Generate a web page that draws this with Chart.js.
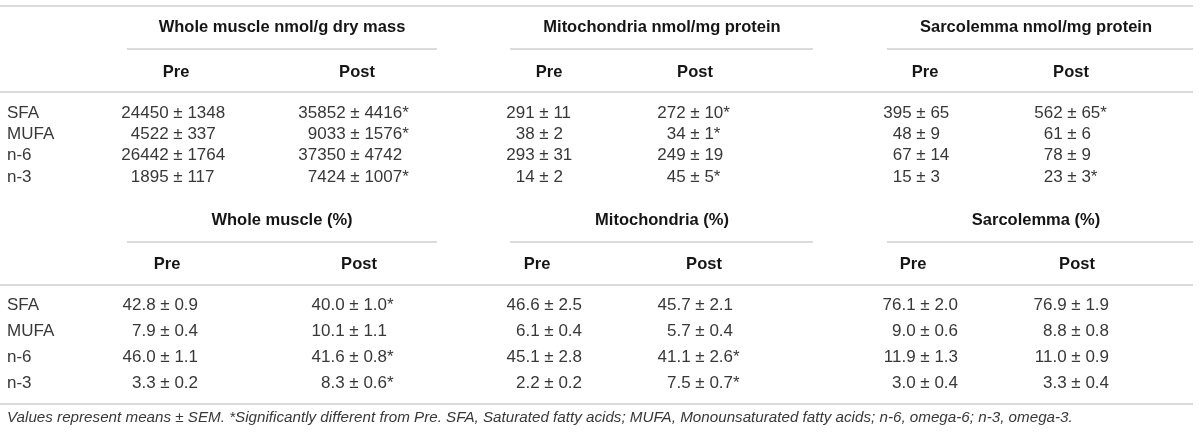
<!DOCTYPE html>
<html>
<head>
<meta charset="utf-8">
<script src="https://cdn.jsdelivr.net/npm/chart.js@4.4.1/dist/chart.umd.min.js"></script>
<style>
  html, body { margin: 0; padding: 0; background: #fff; }
  canvas { display: block; }
</style>
</head>
<body>
<canvas id="table" width="1200" height="436"></canvas>
<script>
const fattyAcids = ['SFA', 'MUFA', 'n-6', 'n-3'];
const timepoints = ['Pre', 'Post'];
const absGroups = ['Whole muscle nmol/g dry mass', 'Mitochondria nmol/mg protein', 'Sarcolemma nmol/mg protein'];
const pctGroups = ['Whole muscle (%)', 'Mitochondria (%)', 'Sarcolemma (%)'];

// one [pre, post] pair per fatty acid
const wholeAbsMean = [[24450, 35852], [4522, 9033], [26442, 37350], [1895, 7424]];
const wholeAbsSem  = [[1348, 4416], [337, 1576], [1764, 4742], [117, 1007]];
const wholeAbsSig  = [[0, 1], [0, 1], [0, 0], [0, 1]];
const mitoAbsMean  = [[291, 272], [38, 34], [293, 249], [14, 45]];
const mitoAbsSem   = [[11, 10], [2, 1], [31, 19], [2, 5]];
const mitoAbsSig   = [[0, 1], [0, 1], [0, 0], [0, 1]];
const sarcAbsMean  = [[395, 562], [48, 61], [67, 78], [15, 23]];
const sarcAbsSem   = [[65, 65], [9, 6], [14, 9], [3, 3]];
const sarcAbsSig   = [[0, 1], [0, 0], [0, 0], [0, 1]];

const wholePctMean = [[42.8, 40.0], [7.9, 10.1], [46.0, 41.6], [3.3, 8.3]];
const wholePctSem  = [[0.9, 1.0], [0.4, 1.1], [1.1, 0.8], [0.2, 0.6]];
const wholePctSig  = [[0, 1], [0, 0], [0, 1], [0, 1]];
const mitoPctMean  = [[46.6, 45.7], [6.1, 5.7], [45.1, 41.1], [2.2, 7.5]];
const mitoPctSem   = [[2.5, 2.1], [0.4, 0.4], [2.8, 2.6], [0.2, 0.7]];
const mitoPctSig   = [[0, 0], [0, 0], [0, 1], [0, 1]];
const sarcPctMean  = [[76.1, 76.9], [9.0, 8.8], [11.9, 11.0], [3.0, 3.3]];
const sarcPctSem   = [[2.0, 1.9], [0.6, 0.8], [1.3, 0.9], [0.4, 0.4]];
const sarcPctSig   = [[0, 0], [0, 0], [0, 0], [0, 0]];

const footnote = 'Values represent means \u00b1 SEM. *Significantly different from Pre. SFA, Saturated fatty acids; MUFA, Monounsaturated fatty acids; n-6, omega-6; n-3, omega-3.';

// layout, in the units of the page scales (one unit = one pixel)
const FONT = '"Liberation Sans", Arial, sans-serif';
const ruleColor = '#cfcfcf';
const textColor = '#383838';
const headColor = '#151515';
const bodyFont = '17px ' + FONT;
const headFont = 'bold 16.5px ' + FONT;
const footFont = 'italic 15.2px ' + FONT;
const labelX = 7;
const ruleX = [0, 1193];
const groupSpan = [[127, 437], [510, 813], [887, 1193]];
const groupMid = [282, 662, 1036];
const sections = [
  {
    groups: absGroups, decimals: 0,
    mean: [wholeAbsMean, mitoAbsMean, sarcAbsMean],
    sem: [wholeAbsSem, mitoAbsSem, sarcAbsSem],
    sig: [wholeAbsSig, mitoAbsSig, sarcAbsSig],
    topRule: 6, groupY: 27, underY: 49, headY: 72, headRule: 92, rowY: 113, rowStep: 21.3,
    headX: [[176, 357], [549, 695], [925, 1071]],
    pivotX: [[178, 355], [544, 695], [921, 1072]]
  },
  {
    groups: pctGroups, decimals: 1,
    mean: [wholePctMean, mitoPctMean, sarcPctMean],
    sem: [wholePctSem, mitoPctSem, sarcPctSem],
    sig: [wholePctSig, mitoPctSig, sarcPctSig],
    groupY: 220, underY: 242, headY: 264, headRule: 285, rowY: 305, rowStep: 26,
    headX: [[167, 359], [537, 704], [913, 1077]],
    pivotX: [[165, 354], [549, 700], [925, 1076]]
  }
];
const bottomRule = 404;
const footY = 418;

const tablePlugin = {
  id: 'tablePlugin',
  afterDraw(chart) {
    const ctx = chart.ctx;
    const xs = chart.scales.x;
    const ys = chart.scales.y;
    const px = v => xs.getPixelForValue(v);
    const py = v => ys.getPixelForValue(v);

    ctx.save();
    ctx.fillStyle = '#fff';
    ctx.fillRect(0, 0, chart.width, chart.height);

    function rule(x0, x1, y) {
      ctx.strokeStyle = ruleColor;
      ctx.lineWidth = 1.6;
      ctx.beginPath();
      ctx.moveTo(px(x0), py(y));
      ctx.lineTo(px(x1), py(y));
      ctx.stroke();
    }

    ctx.textBaseline = 'middle';
    sections.forEach(sec => {
      if (sec.topRule !== undefined) rule(ruleX[0], ruleX[1], sec.topRule);
      rule(ruleX[0], ruleX[1], sec.headRule);

      sec.groups.forEach((g, gi) => {
        const span = groupSpan[gi];
        ctx.font = headFont;
        ctx.fillStyle = headColor;
        ctx.textAlign = 'center';
        ctx.fillText(g, px(groupMid[gi]), py(sec.groupY));
        rule(span[0], span[1], sec.underY);

        timepoints.forEach((t, ti) => {
          ctx.font = headFont;
          ctx.fillStyle = headColor;
          ctx.textAlign = 'center';
          ctx.fillText(t, px(sec.headX[gi][ti]), py(sec.headY));

          // cells are aligned on the plus-minus sign
          fattyAcids.forEach((fa, ri) => {
            const y = py(sec.rowY + ri * sec.rowStep);
            const x = px(sec.pivotX[gi][ti]);
            const m = sec.mean[gi][ri][ti].toFixed(sec.decimals);
            const s = sec.sem[gi][ri][ti].toFixed(sec.decimals) + (sec.sig[gi][ri][ti] ? '*' : '');
            ctx.font = bodyFont;
            ctx.fillStyle = textColor;
            const half = ctx.measureText('\u00b1').width / 2;
            ctx.textAlign = 'right';
            ctx.fillText(m + ' ', x - half, y);
            ctx.textAlign = 'center';
            ctx.fillText('\u00b1', x, y);
            ctx.textAlign = 'left';
            ctx.fillText(' ' + s, x + half, y);
          });
        });
      });

      fattyAcids.forEach((fa, ri) => {
        ctx.font = bodyFont;
        ctx.fillStyle = textColor;
        ctx.textAlign = 'left';
        ctx.fillText(fa, px(labelX), py(sec.rowY + ri * sec.rowStep));
      });
    });

    rule(ruleX[0], ruleX[1], bottomRule);
    ctx.font = footFont;
    ctx.fillStyle = textColor;
    ctx.textAlign = 'left';
    ctx.fillText(footnote, px(labelX), py(footY));
    ctx.restore();
  }
};

new Chart(document.getElementById('table'), {
  type: 'scatter',
  data: { datasets: [] },
  options: {
    responsive: false,
    animation: false,
    layout: { padding: 0 },
    plugins: { legend: { display: false }, tooltip: { enabled: false } },
    scales: {
      x: { type: 'linear', min: 0, max: 1200, display: false },
      y: { type: 'linear', min: 0, max: 436, reverse: true, display: false }
    }
  },
  plugins: [tablePlugin]
});
</script>
</body>
</html>
